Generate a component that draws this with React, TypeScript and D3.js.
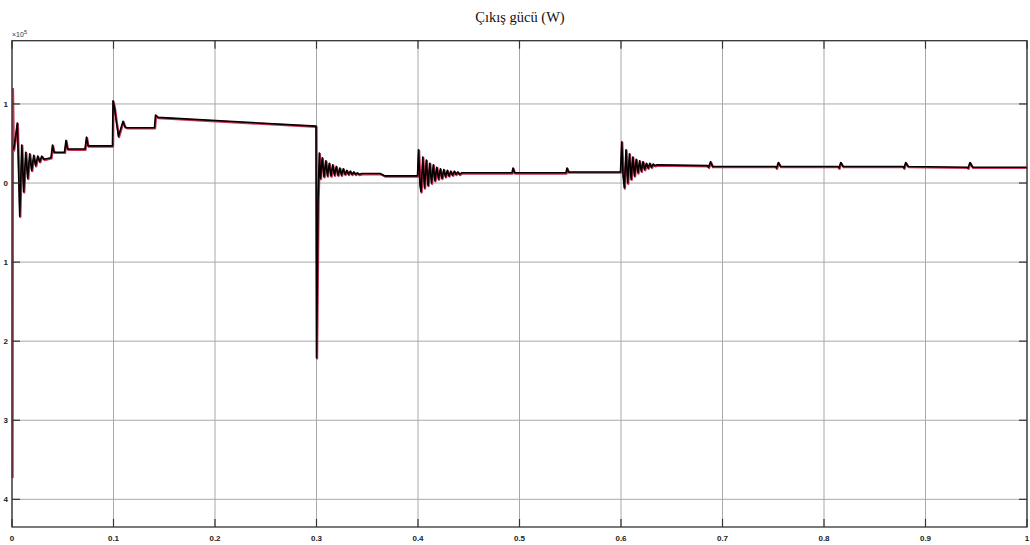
import React from "react";
import * as d3 from "d3";

const title = "Çıkış gücü (W)";
const exponentBase = "×10";
const exponentSup = "5";
const xTicks = [0, 0.1, 0.2, 0.3, 0.4, 0.5, 0.6, 0.7, 0.8, 0.9, 1];
const xTickLabels = ["0", "0.1", "0.2", "0.3", "0.4", "0.5", "0.6", "0.7", "0.8", "0.9", "1"];
const yTicks = [-4, -3, -2, -1, 0, 1];
const yTickLabels = ["4", "3", "2", "1", "0", "1"];

// [time (s), power (x10^5 W)]
const redStart: [number, number][] = [
  [0, -3.72], [0.0004, 1.2], [0.0012, 0.45],
];
const startTransient: [number, number][] = [
  [0.0015, 0.42], [0.003, 0.54], [0.0052, 0.76], [0.0076, -0.42], [0.0096, 0.48],
  [0.0115, -0.11], [0.0135, 0.39], [0.0155, 0.06], [0.0174, 0.37], [0.0194, 0.16],
  [0.0214, 0.35], [0.0233, 0.22], [0.0253, 0.34], [0.0273, 0.27], [0.0293, 0.34],
  [0.0315, 0.3], [0.0384, 0.32], [0.0399, 0.48], [0.0414, 0.39], [0.0517, 0.39],
  [0.0532, 0.54], [0.0547, 0.43], [0.0719, 0.43], [0.0734, 0.58], [0.0749, 0.47],
  [0.099, 0.47],
];
const step01: [number, number][] = [
  [0.0995, 1.04], [0.101, 0.95], [0.1025, 0.8], [0.1049, 0.59], [0.1074, 0.7],
  [0.1094, 0.78], [0.1113, 0.71], [0.1133, 0.7], [0.1404, 0.7], [0.1414, 0.86],
  [0.1438, 0.83], [0.2995, 0.72],
];
const step03: [number, number][] = [
  [0.3, -2.21], [0.3015, -0.22], [0.3028, 0.38], [0.3039, 0.06], [0.3057, 0.32],
  [0.3074, 0.08], [0.3092, 0.28], [0.3108, 0.09], [0.3126, 0.25], [0.3143, 0.09],
  [0.316, 0.23], [0.3177, 0.1], [0.3195, 0.21], [0.3212, 0.1], [0.323, 0.19],
  [0.3246, 0.1], [0.3264, 0.18], [0.3281, 0.11], [0.3299, 0.16], [0.3315, 0.11],
  [0.3333, 0.15], [0.335, 0.11], [0.3368, 0.14], [0.3384, 0.11], [0.3402, 0.13],
  [0.3419, 0.11], [0.3448, 0.12], [0.3626, 0.12], [0.3675, 0.09], [0.3995, 0.09],
];
const step04: [number, number][] = [
  [0.4005, 0.42], [0.402, -0.03], [0.403, -0.11], [0.4047, 0.33], [0.4064, -0.06],
  [0.4082, 0.29], [0.4099, -0.03], [0.4116, 0.25], [0.4133, 0.0], [0.4151, 0.23],
  [0.4167, 0.03], [0.4185, 0.2], [0.4202, 0.05], [0.422, 0.18], [0.4236, 0.06],
  [0.4254, 0.17], [0.4271, 0.08], [0.4289, 0.16], [0.4305, 0.09], [0.4323, 0.15],
  [0.434, 0.1], [0.4358, 0.15], [0.4374, 0.11], [0.4392, 0.14], [0.4409, 0.11],
  [0.4433, 0.13], [0.4926, 0.13], [0.4936, 0.19], [0.4951, 0.13], [0.5458, 0.13],
  [0.5468, 0.19], [0.5483, 0.14], [0.5995, 0.14],
];
const step06: [number, number][] = [
  [0.6007, 0.52], [0.602, 0.1], [0.6033, -0.06], [0.6049, 0.42], [0.6066, 0.0],
  [0.6083, 0.37], [0.61, 0.05], [0.6116, 0.33], [0.6133, 0.09], [0.615, 0.3],
  [0.6167, 0.13], [0.6183, 0.28], [0.62, 0.15], [0.6217, 0.27], [0.6233, 0.17],
  [0.625, 0.25], [0.6267, 0.19], [0.6284, 0.25], [0.63, 0.2], [0.6317, 0.24],
  [0.6335, 0.22], [0.6355, 0.23], [0.6852, 0.22], [0.6862, 0.2], [0.6882, 0.27],
  [0.6901, 0.21], [0.7522, 0.21], [0.7532, 0.19], [0.755, 0.26], [0.7571, 0.21],
  [0.8138, 0.21], [0.8148, 0.19], [0.8165, 0.26], [0.8187, 0.21], [0.8778, 0.21],
  [0.8788, 0.19], [0.8805, 0.26], [0.8828, 0.21], [0.9409, 0.2], [0.9419, 0.19],
  [0.9438, 0.26], [0.9463, 0.2], [1.0, 0.2],
];

const blackSeries = [...startTransient, ...step01, ...step03, ...step04, ...step06];
const redSeries = [...redStart, ...blackSeries];

export default function App() {
  const W = 1030, H = 545;
  const left = 12, right = 1027, top = 40.7, bottom = 527;
  const x = d3.scaleLinear().domain([0, 1]).range([left, right]);
  const y = d3.scaleLinear().domain([-4.35, 1.8]).range([bottom, top]);
  const line = d3.line<[number, number]>().x(d => x(d[0])).y(d => y(d[1]));
  const tickLen = 8;
  const labelFont = "'Liberation Sans', Arial, sans-serif";

  return (
    <svg width={W} height={H} style={{ position: "absolute", left: 0, top: 0, background: "#fff" }}>
      <rect x={0} y={0} width={W} height={H} fill="#fff" />
      <text x={520} y={22} textAnchor="middle" fontFamily="'Liberation Serif', 'Times New Roman', serif" fontSize={14.5} fill="#111">{title}</text>
      {/* grid */}
      {xTicks.map((t, i) => (
        <line key={"gx" + i} x1={x(t)} x2={x(t)} y1={top} y2={bottom} stroke="#a8a8a8" strokeWidth={1} />
      ))}
      {yTicks.map((v, i) => (
        <line key={"gy" + i} x1={left} x2={right} y1={y(v)} y2={y(v)} stroke="#a8a8a8" strokeWidth={1} />
      ))}
      {/* series */}
      <path d={line(redSeries) || ""} fill="none" stroke="#c8324e" strokeWidth={2.2} strokeLinejoin="round" transform="translate(0.6,0.8)" />
      <path d={line(blackSeries) || ""} fill="none" stroke="#000" strokeWidth={1.6} strokeLinejoin="round" />
      {/* ticks */}
      {xTicks.map((t, i) => (
        <g key={"tx" + i}>
          <line x1={x(t)} x2={x(t)} y1={bottom} y2={bottom - tickLen} stroke="#333" strokeWidth={1.2} />
          <line x1={x(t)} x2={x(t)} y1={top} y2={top + tickLen} stroke="#333" strokeWidth={1.2} />
          <text x={x(t)} y={541} textAnchor="middle" fontFamily={labelFont} fontSize={8} fontWeight="bold" fill="#222">{xTickLabels[i]}</text>
        </g>
      ))}
      {yTicks.map((v, i) => (
        <g key={"ty" + i}>
          <line x1={left} x2={left + tickLen} y1={y(v)} y2={y(v)} stroke="#333" strokeWidth={1.2} />
          <line x1={right} x2={right - tickLen} y1={y(v)} y2={y(v)} stroke="#333" strokeWidth={1.2} />
          <text x={8} y={y(v) + 3} textAnchor="end" fontFamily={labelFont} fontSize={8} fontWeight="bold" fill="#222">{yTickLabels[i]}</text>
        </g>
      ))}
      {/* frame */}
      <rect x={left} y={top} width={right - left} height={bottom - top} fill="none" stroke="#333" strokeWidth={1.3} />
      <text x={12} y={37} fontFamily={labelFont} fontSize={7} fill="#333">
        {exponentBase}
        <tspan dy={-3} fontSize={5.5}>{exponentSup}</tspan>
      </text>
    </svg>
  );
}
